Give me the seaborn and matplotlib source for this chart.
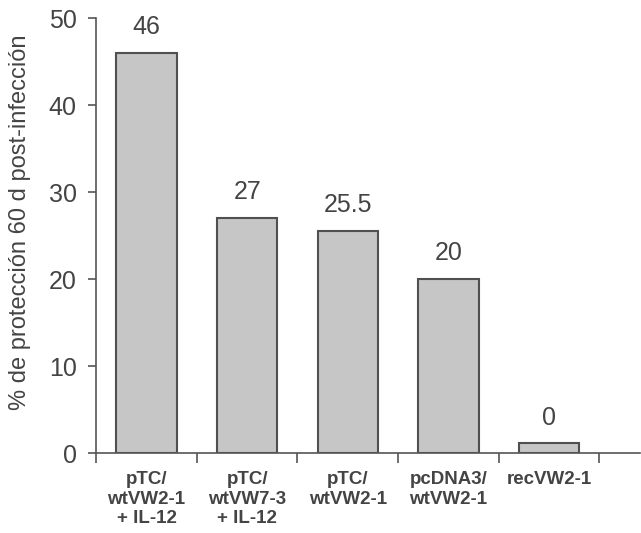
import numpy as np
import matplotlib
matplotlib.use("Agg")
import matplotlib.pyplot as plt
import seaborn as sns

# --- DATA ---
categories = ["pTC/\nwtVW2-1\n+ IL-12", "pTC/\nwtVW7-3\n+ IL-12", "pTC/\nwtVW2-1",
              "pcDNA3/\nwtVW2-1", "recVW2-1"]
values = [46, 27, 25.5, 20, 1.1]          # drawn bar heights
value_labels = ["46", "27", "25.5", "20", "0"]
y_ticks = [0, 10, 20, 30, 40, 50]

sns.set_style("white")
plt.rcParams["font.family"] = ["Liberation Sans", "DejaVu Sans"]

AXIS_COLOR = "#555555"
TEXT_COLOR = "#444444"

fig = plt.figure(figsize=(6.41, 5.33), dpi=100)
ax = fig.add_axes([0.150, 0.150, 0.848, 0.816])

sns.barplot(x=categories, y=values, color="#c6c6c6", edgecolor="#505050",
            linewidth=1.5, width=0.6, saturation=1, ax=ax)

ax.bar_label(ax.containers[0], labels=value_labels, padding=10,
             fontsize=18, color=TEXT_COLOR)

ax.set_ylim(0, 50)
ax.set_xlim(-0.5, 4.9)
ax.set_yticks(y_ticks)
ax.tick_params(axis="y", labelsize=18, colors=AXIS_COLOR, labelcolor=TEXT_COLOR,
               length=6, width=1.2, direction="out", left=True, pad=8)

# ticks at category boundaries, labels centered under bars
ax.set_xticks(np.arange(len(categories) + 1) - 0.5)
ax.set_xticklabels([])
ax.set_xticks(np.arange(len(categories)), minor=True)
ax.set_xticklabels(categories, minor=True, fontsize=13.5, fontweight="bold",
                   color=TEXT_COLOR, linespacing=1.2)
ax.tick_params(axis="x", which="major", length=7, width=1.2, colors=AXIS_COLOR,
               direction="out", bottom=True)
ax.tick_params(axis="x", which="minor", length=0, pad=13)

ax.set_ylabel("% de protección 60 d post-infección", fontsize=17,
              color=TEXT_COLOR)
ax.yaxis.set_label_coords(-0.12, 0.53)
ax.set_xlabel("")

for side in ["top", "right"]:
    ax.spines[side].set_visible(False)
for side in ["left", "bottom"]:
    ax.spines[side].set_color(AXIS_COLOR)
    ax.spines[side].set_linewidth(1.2)

fig.savefig("out.png", dpi=100)
